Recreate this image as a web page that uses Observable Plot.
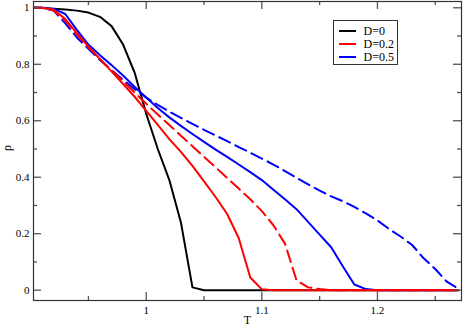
<!DOCTYPE html>
<html><head><meta charset="utf-8">
<script src="https://cdn.jsdelivr.net/npm/d3@7"></script>
<script src="https://cdn.jsdelivr.net/npm/@observablehq/plot@0.6"></script>
<style>
body{margin:0;background:#fff}
#wrap{position:relative;width:463px;height:328px}
#wrap svg text{font-family:"Liberation Serif","Times New Roman",serif}
#legend{position:absolute;left:332.5px;top:20px;width:63px;height:43px;border:1px solid #333;background:#fff;font-family:"Liberation Serif","Times New Roman",serif;font-size:12px}
.row{position:absolute;left:0;height:14px;line-height:14px}
.sw{position:absolute;left:5px;top:6px;width:17px;height:2px}
.lb{position:absolute;left:30px;top:0;white-space:nowrap}
</style>
</head><body><div id="wrap"></div>
<script>
const T = [0.90,0.91,0.92,0.93,0.94,0.95,0.96,0.97,0.98,0.99,1.00,1.01,1.02,1.03,1.04,1.05,1.06,1.07,1.08,1.09,1.10,1.11,1.12,1.13,1.14,1.15,1.16,1.17,1.18,1.19,1.20,1.21,1.22,1.23,1.24,1.25,1.26,1.27];
const rhoD0 = [1,0.999,0.997,0.994,0.99,0.983,0.968,0.935,0.87,0.77,0.625,0.5,0.39,0.24,0.01,0,0,0,0,0,0,0,0,0,0,0,0,0,0,0,0,0,0,0,0,0,0,0];
const rhoD02 = [1,1,0.993,0.96,0.91,0.862,0.818,0.775,0.73,0.685,0.635,0.585,0.535,0.49,0.44,0.385,0.33,0.27,0.185,0.045,0.003,0,0,0,0,0,0,0,0,0,0,0,0,0,0,0,0,0];
const rhoD02b = [1,1,0.99,0.955,0.905,0.86,0.818,0.778,0.74,0.70,0.66,0.622,0.585,0.547,0.51,0.472,0.435,0.397,0.36,0.322,0.28,0.23,0.165,0.035,0.01,0.004,0,0,0,0,0,0,0,0,0,0,0,0];
const rhoD05 = [1,1,0.996,0.978,0.922,0.87,0.832,0.797,0.76,0.72,0.682,0.645,0.612,0.582,0.553,0.525,0.498,0.472,0.445,0.418,0.39,0.356,0.322,0.287,0.242,0.197,0.152,0.085,0.02,0.004,0,0,0,0,0,0,0,0];
const rhoD05b = [1,1,0.99,0.945,0.895,0.855,0.815,0.78,0.745,0.712,0.682,0.656,0.632,0.61,0.589,0.568,0.548,0.528,0.507,0.487,0.466,0.445,0.422,0.398,0.375,0.353,0.332,0.315,0.295,0.272,0.247,0.217,0.19,0.16,0.113,0.075,0.03,0.005];
const xMajor = [1, 1.1, 1.2];
const xMinor = [0.95, 1.05, 1.15, 1.25];
const yMajor = [0, 0.2, 0.4, 0.6, 0.8, 1];
const yMinor = [0.1, 0.3, 0.5, 0.7, 0.9];
const legendLabels = ["D=0", "D=0.2", "D=0.5"];
const legendColors = ["#000000", "#ff0000", "#0000ff"];

const W = 463, H = 328, mL = 33, mR = 2, mT = 1, mB = 28;
const pw = W - mL - mR, ph = H - mT - mB;
const serif = '"Liberation Serif","Times New Roman",serif';
const rows = v => T.map((t, i) => ({T: t, rho: v[i]}));
const lineOpts = (stroke, dash) => ({x: "T", y: "rho", stroke, strokeWidth: 2, strokeDasharray: dash, clip: true});
const tickCol = "#555";

const chart = Plot.plot({
  width: W, height: H,
  marginLeft: mL, marginRight: mR, marginTop: mT, marginBottom: mB,
  style: {fontFamily: serif, fontSize: "11px", background: "#fff", color: "#000"},
  x: {domain: [0.9025, 1.2727], label: null},
  y: {domain: [-0.0365, 1.0223], label: null},
  marks: [
    Plot.line(rows(rhoD0), lineOpts(legendColors[0])),
    Plot.line(rows(rhoD05), lineOpts(legendColors[2])),
    Plot.line(rows(rhoD05b), lineOpts(legendColors[2], "12,6")),
    Plot.line(rows(rhoD02), lineOpts(legendColors[1])),
    Plot.line(rows(rhoD02b), lineOpts(legendColors[1], "12,6")),
    Plot.tickX(xMajor, {x: d => d, insetTop: ph - 8, stroke: tickCol, strokeWidth: 1.3}),
    Plot.tickX(xMinor, {x: d => d, insetTop: ph - 4, stroke: tickCol, strokeWidth: 1.3}),
    Plot.tickX(xMajor, {x: d => d, insetBottom: ph - 8, stroke: tickCol, strokeWidth: 1.3}),
    Plot.tickX(xMinor, {x: d => d, insetBottom: ph - 4, stroke: tickCol, strokeWidth: 1.3}),
    Plot.tickY(yMajor, {y: d => d, insetRight: pw - 8, stroke: tickCol, strokeWidth: 1.3}),
    Plot.tickY(yMinor, {y: d => d, insetRight: pw - 4, stroke: tickCol, strokeWidth: 1.3}),
    Plot.tickY(yMajor, {y: d => d, insetLeft: pw - 8, stroke: tickCol, strokeWidth: 1.3}),
    Plot.tickY(yMinor, {y: d => d, insetLeft: pw - 4, stroke: tickCol, strokeWidth: 1.3}),
    Plot.frame({stroke: "#333", strokeWidth: 1.2}),
    Plot.axisX({ticks: xMajor, tickSize: 0, tickPadding: 6, tickFormat: d => String(d), label: null, fontFamily: serif, fontSize: 11}),
    Plot.axisY({ticks: yMajor, tickSize: 0, tickPadding: 4, tickFormat: d => String(d), label: null, fontFamily: serif, fontSize: 11}),
    Plot.text(["T"], {frameAnchor: "bottom", dy: 23, fontSize: 12, fontFamily: serif}),
    Plot.text(["ρ"], {frameAnchor: "left", dx: -26, rotate: -90, fontSize: 12, fontFamily: serif})
  ]
});
const wrap = document.getElementById("wrap");
wrap.appendChild(chart);
const lg = document.createElement("div");
lg.id = "legend";
legendLabels.forEach((l, i) => {
  const r = document.createElement("div");
  r.className = "row";
  r.style.top = (3 + i * 12.8) + "px";
  r.innerHTML = `<span class="sw" style="background:${legendColors[i]}"></span><span class="lb">${l}</span>`;
  lg.appendChild(r);
});
wrap.appendChild(lg);
</script>
</body></html>
